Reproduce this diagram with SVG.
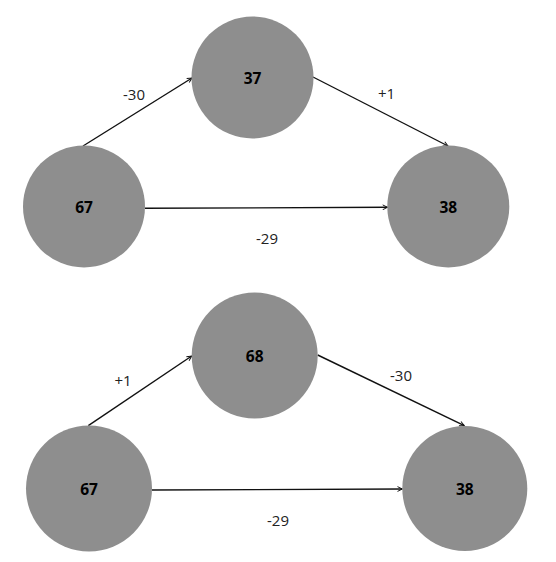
<svg xmlns="http://www.w3.org/2000/svg" width="556" height="562" viewBox="0 0 556 562">
<style>
.node circle{fill:#8e8e8e;}
.node text{font-family:"Open Sans","DejaVu Sans",sans-serif;font-weight:bold;font-size:15.5px;fill:#000;text-anchor:middle;dominant-baseline:central;}
.edge{stroke:#111;stroke-width:1.4;fill:none;marker-end:url(#arr);}
.lbl{font-family:"Open Sans","DejaVu Sans",sans-serif;font-size:15px;fill:#222;text-anchor:middle;dominant-baseline:central;}
</style>
<defs>
<marker id="arr" viewBox="0 0 10 10" refX="9" refY="5" markerWidth="6" markerHeight="6" markerUnits="userSpaceOnUse" orient="auto">
<path d="M1,1 L9,5 L1,9" fill="none" stroke="#111" stroke-width="1.6"/>
</marker>
</defs>
<rect width="556" height="562" fill="#fff"/>
<g id="connectors">
<line class="edge" x1="83" y1="146" x2="192" y2="78"/>
<line class="edge" x1="313" y1="77" x2="448" y2="146"/>
<line class="edge" x1="145" y1="208.3" x2="387.5" y2="207.3"/>
<line class="edge" x1="88.3" y1="425.7" x2="191.7" y2="356"/>
<line class="edge" x1="317.7" y1="355" x2="464.3" y2="425.7"/>
<line class="edge" x1="152" y1="490" x2="402.3" y2="489"/>
</g>
<g id="labels">
<text class="lbl" x="134" y="94">-30</text>
<text class="lbl" x="386.5" y="93">+1</text>
<text class="lbl" x="267" y="238">-29</text>
<text class="lbl" x="123" y="380">+1</text>
<text class="lbl" x="401" y="375">-30</text>
<text class="lbl" x="278" y="520">-29</text>
</g>
<g id="n-top-37" class="node"><circle cx="252.5" cy="77.5" r="61"/><text x="252.5" y="78">37</text></g>
<g id="n-top-67" class="node"><circle cx="84" cy="206.5" r="61"/><text x="84" y="207">67</text></g>
<g id="n-top-38" class="node"><circle cx="448.3" cy="206.5" r="61"/><text x="448.3" y="207">38</text></g>
<g id="n-bot-68" class="node"><circle cx="254.7" cy="355.5" r="63"/><text x="254.7" y="356">68</text></g>
<g id="n-bot-67" class="node"><circle cx="89" cy="488.5" r="63"/><text x="89" y="489">67</text></g>
<g id="n-bot-38" class="node"><circle cx="464.8" cy="488.5" r="62.5"/><text x="464.8" y="489">38</text></g>
</svg>
